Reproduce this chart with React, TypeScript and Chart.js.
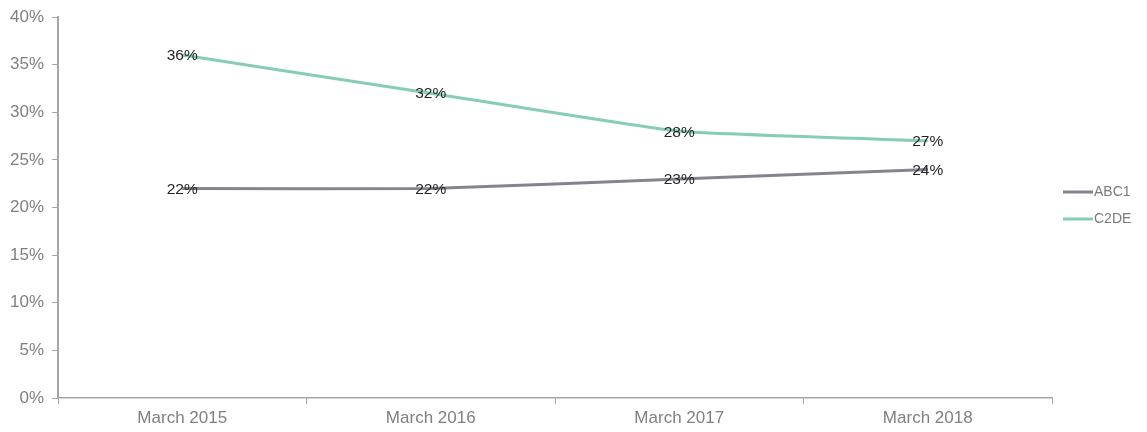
import React, { useEffect, useRef } from "react";
import { Chart, registerables } from "chart.js";

Chart.register(...registerables);

const categories = ["March 2015", "March 2016", "March 2017", "March 2018"];
const abc1Values = [22, 22, 23, 24];
const c2deValues = [36, 32, 28, 27];
const seriesNames = ["ABC1", "C2DE"];
const seriesColors = ["#85838f", "#86cdb6"];
const yTicksMax = 40;
const yTickStep = 5;

const FONT = "Arial, 'Liberation Sans', sans-serif";

const dataLabelPlugin = {
  id: "dataLabels",
  afterDatasetsDraw(chart: any) {
    const ctx = chart.ctx;
    ctx.save();
    ctx.font = "15.5px " + FONT;
    ctx.fillStyle = "#262626";
    ctx.textAlign = "center";
    ctx.textBaseline = "middle";
    chart.data.datasets.forEach((ds: any, i: number) => {
      const meta = chart.getDatasetMeta(i);
      meta.data.forEach((pt: any, j: number) => {
        ctx.fillText(ds.data[j] + "%", pt.x, pt.y + 1);
      });
    });
    ctx.restore();
  },
};

const customLegendPlugin = {
  id: "customLegend",
  afterDraw(chart: any) {
    const ctx = chart.ctx;
    ctx.save();
    ctx.font = "14px " + FONT;
    ctx.textAlign = "left";
    ctx.textBaseline = "middle";
    const x0 = 1055;
    const ys = [184, 211];
    chart.data.datasets.forEach((ds: any, i: number) => {
      ctx.strokeStyle = ds.borderColor;
      ctx.lineWidth = 3;
      ctx.beginPath();
      ctx.moveTo(x0, ys[i]);
      ctx.lineTo(x0 + 30, ys[i]);
      ctx.stroke();
      ctx.fillStyle = "#7a7a7a";
      ctx.fillText(ds.label, x0 + 31, ys[i]);
    });
    ctx.restore();
  },
};

export default function App() {
  const canvasRef = useRef<HTMLCanvasElement>(null);
  useEffect(() => {
    const chart = new Chart(canvasRef.current!, {
      type: "line",
      data: {
        labels: categories,
        datasets: [
          {
            label: seriesNames[0],
            data: abc1Values,
            borderColor: seriesColors[0],
            backgroundColor: seriesColors[0],
            borderWidth: 3,
            pointRadius: 0,
            tension: 0.12,
          },
          {
            label: seriesNames[1],
            data: c2deValues,
            borderColor: seriesColors[1],
            backgroundColor: seriesColors[1],
            borderWidth: 3,
            pointRadius: 0,
            tension: 0.12,
          },
        ],
      },
      options: {
        animation: false,
        responsive: false,
        maintainAspectRatio: false,
        layout: { padding: { top: 9, right: 87, left: 0, bottom: 0 } },
        plugins: { legend: { display: false }, tooltip: { enabled: false } },
        scales: {
          x: {
            offset: true,
            grid: {
              offset: true,
              drawOnChartArea: false,
              drawTicks: true,
              tickLength: 6,
              color: "#a6a6a6",
            },
            border: { color: "#a6a6a6", width: 1.5 },
            ticks: {
              color: "#808080",
              font: { family: FONT, size: 17 },
              padding: 4,
              maxRotation: 0,
            },
            afterFit(scale: any) {
              scale.height = 26;
            },
          },
          y: {
            min: 0,
            max: yTicksMax,
            grid: {
              drawOnChartArea: false,
              drawTicks: true,
              tickLength: 6,
              color: "#a6a6a6",
            },
            border: { color: "#a6a6a6", width: 2 },
            ticks: {
              stepSize: yTickStep,
              color: "#808080",
              font: { family: FONT, size: 17 },
              padding: 8,
              callback: (v: any) => v + "%",
            },
            afterFit(scale: any) {
              scale.width = 50;
              scale.paddingTop = 0;
              scale.paddingBottom = 0;
            },
          },
        },
      },
      plugins: [dataLabelPlugin, customLegendPlugin],
    });
    return () => chart.destroy();
  }, []);
  return (
    <div style={{ width: 1131, height: 416 }}>
      <canvas ref={canvasRef} width={1131} height={416} style={{ display: "block" }} />
    </div>
  );
}
